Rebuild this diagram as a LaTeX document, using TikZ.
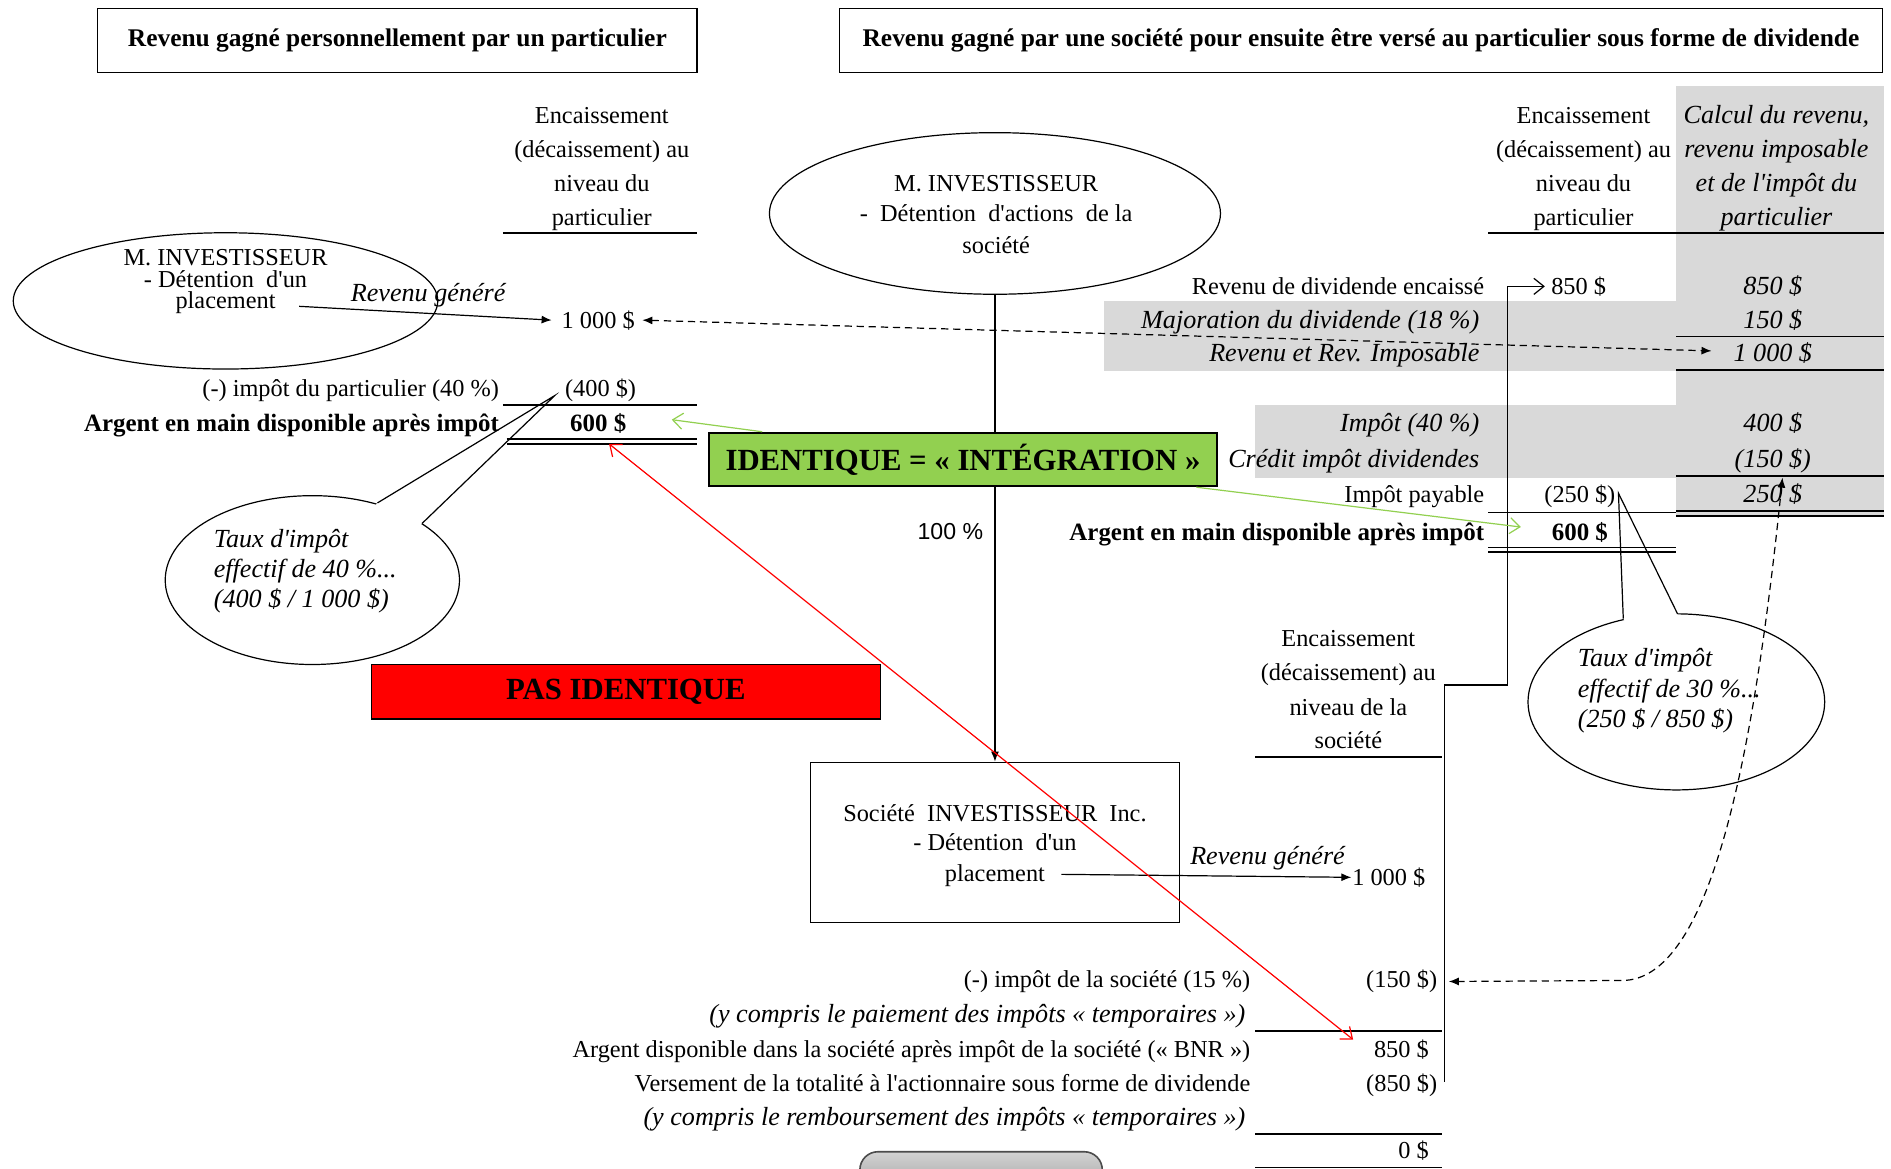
\documentclass[tikz,border=0pt]{standalone}
\usepackage{fontspec}
\setmainfont{Liberation Serif}[Ligatures=TeXOff]
\setsansfont{Liberation Sans}
\usetikzlibrary{arrows.meta,shapes.geometric,calc}
\definecolor{gris}{HTML}{D9D9D9}
\definecolor{vert}{HTML}{92D050}
\definecolor{rouge}{HTML}{FF0000}
\newcommand\myrm{\fontsize{12.1}{14}\selectfont}
\newcommand\myit{\fontsize{13}{14}\selectfont\itshape}
\newcommand\mybf{\fontsize{12.4}{14}\selectfont\bfseries}
\newcommand\mytitle{\fontsize{12.65}{14}\selectfont\bfseries}
\newcommand\mybig{\fontsize{15.3}{18}\selectfont\bfseries}
\begin{document}
\begin{tikzpicture}[x=0.6pt,y=-0.6pt,
  txc/.style={inner sep=0pt,anchor=base,font=\myrm},
  txr/.style={txc,anchor=base east},
  txl/.style={txc,anchor=base west},
  ital/.style={font=\myit},
  fb/.style={font=\mybf},
  rule/.style={line width=0.9pt},
  thinl/.style={line width=0.6pt},
  ell/.style={ellipse,draw,line width=0.6pt,fill=white,inner sep=0pt},
  box/.style={rectangle,draw,line width=0.75pt,inner sep=0pt},
  arr/.style={line width=0.6pt,-{Latex[length=5pt,width=4pt]}},
  dash2/.style={line width=0.6pt,dash pattern=on 3.6pt off 2.4pt,{Latex[length=5pt,width=4pt]}-{Latex[length=5pt,width=4pt]}},
  barb/.style={line width=0.6pt,-{Straight Barb[length=5pt,width=8pt]}},
  barb2/.style={line width=0.6pt,{Straight Barb[length=5pt,width=8pt]}-{Straight Barb[length=5pt,width=8pt]}},
]
\useasboundingbox (0,0) rectangle (1568,969);
\fill[white] (0,0) rectangle (1568,969);

% gray areas
\fill[gris] (1390,71) rectangle (1562,428);
\fill[gris] (915,250) rectangle (1390,308);
\fill[gris] (1041,336) rectangle (1390,396);

% titles
\node[box,minimum width=298.2pt,minimum height=31.8pt,font=\mytitle] (t1) at (329.5,33.5) {Revenu gagné personnellement par un particulier};
\node[box,minimum width=519pt,minimum height=31.8pt,font=\mytitle] (t2) at (1128.5,33.5) {Revenu gagné par une société pour ensuite être versé au particulier sous forme de dividende};

% ellipses
\node[ell,minimum width=211.2pt,minimum height=67.8pt] (eL) at (187,249.5) {};
\node[ell,minimum width=224.4pt,minimum height=80.4pt] (eC) at (825,177) {};

% callout left
\node[ell,minimum width=146.4pt,minimum height=84pt] (cL) at (259,481) {};
\coordinate (cLt) at (460,328);
\coordinate (cLa) at (313,417);
\coordinate (cLb) at (350,434);
\fill[white] (cLa) -- ($(cLa)!0.15!(cLt)$) -- ($(cLb)!0.15!(cLt)$) -- (cLb) -- ($(cLb)!0.06!(cL.center)$) -- ($(cLa)!0.06!(cL.center)$) -- cycle;
\draw[thinl,line join=miter] (cLa) -- (cLt) -- (cLb);

% callout right
\node[ell,minimum width=147.6pt,minimum height=87.6pt] (cR) at (1390,582) {};
\coordinate (cRt) at (1342,409);
\coordinate (cRa) at (1346,513);
\coordinate (cRb) at (1391,509);
\fill[white] (cRa) -- ($(cRa)!0.15!(cRt)$) -- ($(cRb)!0.15!(cRt)$) -- (cRb) -- ($(cRb)!0.06!(cR.center)$) -- ($(cRa)!0.06!(cR.center)$) -- cycle;
\draw[thinl,line join=miter] (cRa) -- (cRt) -- (cRb);

% company box
\node[box,line width=0.6pt,minimum width=183.6pt,minimum height=79.8pt] (sB) at (825,698.5) {};
\draw[arr] (eC.south) -- (sB.north);

% green and red boxes
\node[box,fill=vert,minimum width=252.6pt,minimum height=26.4pt,font=\mybig] (gB) at (798.5,381) {IDENTIQUE = « INTÉGRATION »};
\node[box,fill=rouge,minimum width=253.2pt,minimum height=27pt,font=\mybig] (rB) at (519,573.5) {PAS IDENTIQUE};

% rules
\draw[rule] (417,193) -- (578,193);
\draw[rule] (417,336) -- (578,336);
\draw[rule] (420,364) -- (578,364);
\draw[rule] (420,368) -- (578,368);
\draw[rule] (1234,193) -- (1562,193);
\draw[rule] (1390,279) -- (1562,279);
\draw[rule] (1390,307) -- (1562,307);
\draw[rule] (1390,395) -- (1562,395);
\draw[rule] (1234,425) -- (1390,425);
\draw[rule] (1390,424) -- (1562,424);
\draw[rule] (1390,428) -- (1562,428);
\draw[rule] (1234,454) -- (1390,454);
\draw[rule] (1234,458) -- (1390,458);
\draw[rule] (1041,628) -- (1196,628);
\draw[rule] (1041,855) -- (1196,855);
\draw[rule] (1041,940) -- (1196,940);
\draw[rule] (1041,968) -- (1196,968);

% left header
\node[txc] (hL1) at (499,102) {Encaissement};
\node[txc] (hL2) at (499,131) {(décaissement) au};
\node[txc] (hL3) at (499,159) {niveau du};
\node[txc] (hL4) at (499,187) {particulier};

% left ellipse text
\node[txc] (eL1) at (187,220) {M. INVESTISSEUR};
\node[txc] (eL2) at (187,238) {- Détention\ \ d'un};
\node[txc] (eL3) at (187,256) {placement};
\node[txc,ital] (rg1) at (355,250) {Revenu généré};
\node[txc] (vL1000) at (496,272) {1 000 \$};

% left rows
\node[txr] (lr1) at (414,329) {(-) impôt du particulier (40 \%)};
\node[txc] (lv1) at (498,329) {(400 \$)};
\node[txr,fb] (lr2) at (414,358) {Argent en main disponible après impôt};
\node[txc,fb] (lv2) at (496,358) {600 \$};

% left callout text
\node[txl,ital] (cL1) at (177,454) {Taux d'impôt};
\node[txl,ital] (cL2) at (177,479) {effectif de 40 \%...};
\node[txl,ital] (cL3) at (177,504) {(400 \$ / 1 000 \$)};

% center ellipse text
\node[txc] (eC1) at (826,159) {M. INVESTISSEUR};
\node[txc] (eC2) at (826,184) {-\ \ Détention\ \ d'actions\ \ de la};
\node[txc] (eC3) at (826,210) {société};
\node[inner sep=0pt,anchor=base,font=\sffamily\fontsize{11.5}{13}\selectfont] (pct) at (788,447) {100 \%};

% company box text
\node[txc] (sB1) at (825,681) {Société\ \ INVESTISSEUR\ \ Inc.};
\node[txc] (sB2) at (825,705) {- Détention\ \ d'un};
\node[txc] (sB3) at (825,731) {placement};
\node[txc,ital] (rg2) at (1051,717) {Revenu généré};
\node[txl] (vS1000) at (1121,734) {1 000 \$};

% lower right header
\node[txc] (hS1) at (1118,536) {Encaissement};
\node[txc] (hS2) at (1118,564) {(décaissement) au};
\node[txc] (hS3) at (1118,593) {niveau de la};
\node[txc] (hS4) at (1118,621) {société};

% company rows
\node[txr] (sr1) at (1037,819) {(-) impôt de la société (15 \%)};
\node[txr] (vS150) at (1192,819) {(150 \$)};
\node[txr,ital] (sr2) at (1033,848) {(y compris le paiement des impôts « temporaires »)};
\node[txr] (sr3) at (1037,877) {Argent disponible dans la société après impôt de la société (« BNR »)};
\node[txr] (vS850) at (1185,877) {850 \$};
\node[txr] (sr4) at (1037,905) {Versement de la totalité à l'actionnaire sous forme de dividende};
\node[txr] (vS850b) at (1192,905) {(850 \$)};
\node[txr,ital] (sr5) at (1033,933) {(y compris le remboursement des impôts « temporaires »)};
\node[txr] (vS0) at (1185,961) {0 \$};

% upper right header
\node[txc] (hR1) at (1313,102) {Encaissement};
\node[txc] (hR2) at (1313,131) {(décaissement) au};
\node[txc] (hR3) at (1313,159) {niveau du};
\node[txc] (hR4) at (1313,187) {particulier};
\node[txc,ital] (hG1) at (1473,102) {Calcul du revenu,};
\node[txc,ital] (hG2) at (1473,131) {revenu imposable};
\node[txc,ital] (hG3) at (1473,159) {et de l'impôt du};
\node[txc,ital] (hG4) at (1473,187) {particulier};

% right rows
\node[txr] (rr1) at (1231,244) {Revenu de dividende encaissé};
\node[txc] (rD850) at (1309,244) {850 \$};
\node[txc,ital] (rI850) at (1470,244) {850 \$};
\node[txr,ital] (rr2) at (1227,272) {Majoration du dividende (18 \%)};
\node[txc,ital] (rI150) at (1470,272) {150 \$};
\node[txr,ital] (rr3) at (1227,300) {Revenu et Rev. Imposable};
\node[txc,ital] (rI1000) at (1470,300) {1 000 \$};
\node[txr,ital] (rr4) at (1227,358) {Impôt (40 \%)};
\node[txc,ital] (rI400) at (1470,358) {400 \$};
\node[txr,ital] (rr5) at (1227,388) {Crédit impôt dividendes};
\node[txc,ital] (rI150b) at (1470,388) {(150 \$)};
\node[txr] (rr6) at (1231,417) {Impôt payable};
\node[txc] (rD250) at (1310,417) {(250 \$)};
\node[txc,ital] (rI250) at (1470,417) {250 \$};
\node[txr,fb] (rr7) at (1231,448) {Argent en main disponible après impôt};
\node[txc,fb] (rD600) at (1310,448) {600 \$};

% right callout text
\node[txl,ital] (cR1) at (1308,553) {Taux d'impôt};
\node[txl,ital] (cR2) at (1308,578) {effectif de 30 \%...};
\node[txl,ital] (cR3) at (1308,603) {(250 \$ / 850 \$)};

% connectors
\coordinate (a1s) at (248,254);
\draw[arr] (a1s) -- ([xshift=-4.8pt]vL1000.west);
\coordinate (a2s) at (880,725);
\draw[arr] (a2s) -- ([xshift=-0.3pt]vS1000.west);
\draw[dash2] ([xshift=3.6pt]vL1000.east) -- ([xshift=-10.8pt,yshift=1.2pt]rI1000.west);
\coordinate (cS) at (1198,897);
\draw[barb] (cS) -- (1198,568) -- (1250,568) |- ([xshift=-3pt]rD850.west);
\coordinate (dTop) at (1478,396);
\draw[dash2] (dTop) .. controls (1455,620) and (1420,813) .. (1345,813) -- ([xshift=5.6pt]vS150.east);
\coordinate (gA1) at (632,358);
\coordinate (gZ1) at (557,348);
\draw[barb,vert] (gA1) -- (gZ1);
\coordinate (gA2) at (992,404);
\coordinate (gZ2) at (1261,437);
\draw[barb,vert] (gA2) -- (gZ2);
\coordinate (rA) at (505,368);
\coordinate (rZ) at (1122,862);
\draw[barb2,rouge] (rA) -- (rZ);

% partially visible button (cut by the lower edge)
\begin{scope}
\clip (0,0) rectangle (1568,969);
\node[rectangle,rounded corners=9pt,draw=gray!60!black,line width=0.8pt,top color=gray!35,bottom color=gray!80,minimum width=120.6pt,minimum height=24pt] (btn) at (813.5,975) {};
\end{scope}
\end{tikzpicture}
\end{document}
